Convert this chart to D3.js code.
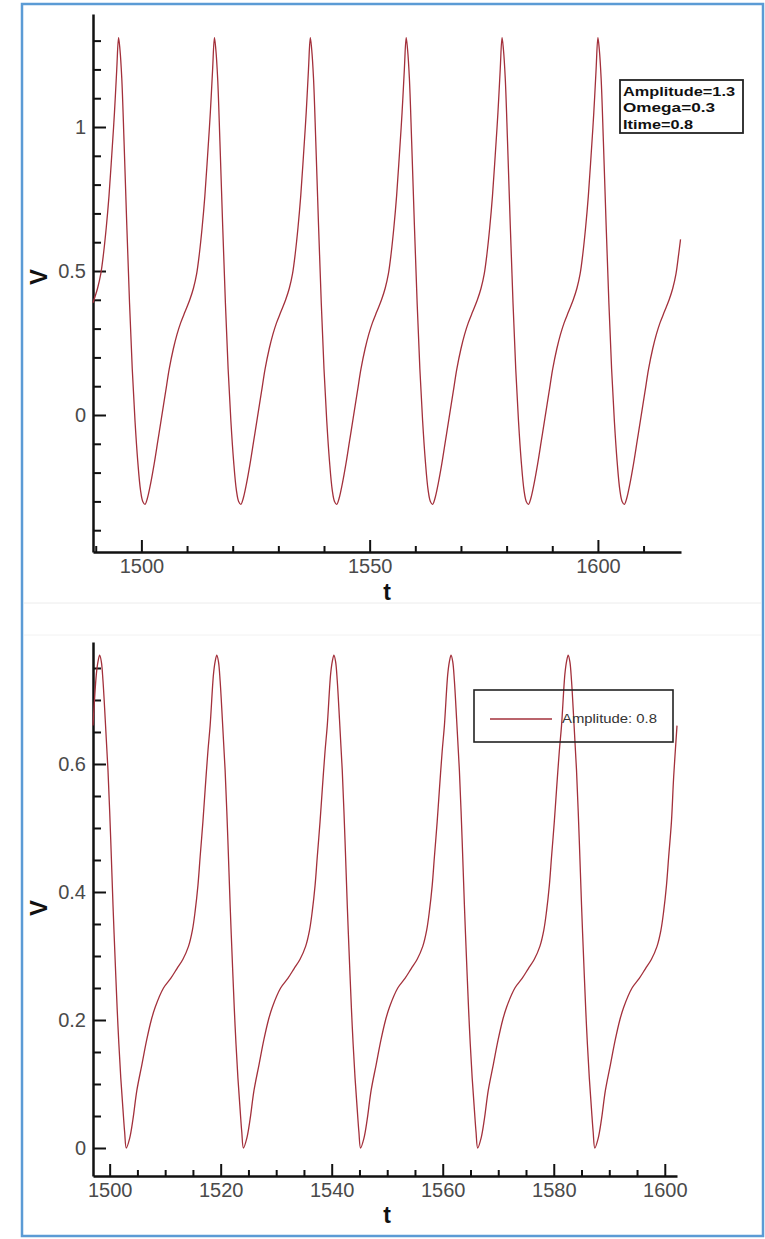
<!DOCTYPE html>
<html>
<head>
<meta charset="utf-8">
<script src="https://cdnjs.cloudflare.com/ajax/libs/d3/7.8.5/d3.min.js"></script>
<style>
  body { margin: 0; background: #fff; }
  svg { display: block; }
  .tick text { font-family: "Liberation Sans", Arial, sans-serif; font-size: 20px; fill: #4a4a4a; }
</style>
</head>
<body>
<svg width="765" height="1239"></svg>
<script>
// ---- upper plot: V(t), Amplitude=1.3
const topT = [
  1489.4,1490.4,1491.1,1491.7,1492.3,1492.9,1493.5,1494.1,1494.6,
  1495.0,1495.3,1495.7,1496.2,1496.8,1497.4,1498.0,1498.6,1499.2,1499.8,1500.3,1500.8,1501.3,1502.0,1502.8,1503.6,1504.4,1505.3,1506.1,1507.0,1507.8,1508.6,1509.6,1510.6,1511.4,1512.1,1512.7,1513.3,1513.9,1514.5,1515.1,1515.6,
  1516.0,1516.3,1516.7,1517.2,1517.8,1518.4,1519.0,1519.6,1520.2,1520.8,1521.3,1521.8,1522.3,1523.0,1523.8,1524.6,1525.4,1526.3,1527.1,1528.0,1528.8,1529.6,1530.6,1531.6,1532.4,1533.1,1533.7,1534.3,1534.9,1535.5,1536.1,1536.6,
  1537.0,1537.3,1537.7,1538.2,1538.8,1539.4,1540.0,1540.6,1541.2,1541.8,1542.3,1542.8,1543.3,1544.0,1544.8,1545.6,1546.4,1547.3,1548.1,1549.0,1549.8,1550.6,1551.6,1552.6,1553.4,1554.1,1554.7,1555.3,1555.9,1556.5,1557.1,1557.6,
  1558.0,1558.3,1558.7,1559.2,1559.8,1560.4,1561.0,1561.6,1562.2,1562.8,1563.3,1563.8,1564.3,1565.0,1565.8,1566.6,1567.4,1568.3,1569.1,1570.0,1570.8,1571.6,1572.6,1573.6,1574.4,1575.1,1575.7,1576.3,1576.9,1577.5,1578.1,1578.6,
  1579.0,1579.3,1579.7,1580.2,1580.8,1581.4,1582.0,1582.6,1583.2,1583.8,1584.3,1584.8,1585.3,1586.0,1586.8,1587.6,1588.4,1589.3,1590.1,1591.0,1591.8,1592.6,1593.6,1594.6,1595.4,1596.1,1596.7,1597.3,1597.9,1598.5,1599.1,1599.6,
  1600.0,1600.3,1600.7,1601.2,1601.8,1602.4,1603.0,1603.6,1604.2,1604.8,1605.3,1605.8,1606.3,1607.0,1607.8,1608.6,1609.4,1610.3,1611.1,1612.0,1612.8,1613.6,1614.6,1615.6,1616.4,1617.1,1617.7,1618.1
];
const topV = [
  0.39,0.44,0.49,0.56,0.65,0.76,0.90,1.05,1.20,
  1.31,1.27,1.17,0.95,0.66,0.39,0.16,-0.02,-0.16,-0.26,-0.30,-0.31,-0.29,-0.24,-0.17,-0.09,-0.01,0.08,0.16,0.23,0.28,0.32,0.36,0.40,0.44,0.49,0.56,0.65,0.76,0.90,1.05,1.20,
  1.31,1.27,1.17,0.95,0.66,0.39,0.16,-0.02,-0.16,-0.26,-0.30,-0.31,-0.29,-0.24,-0.17,-0.09,-0.01,0.08,0.16,0.23,0.28,0.32,0.36,0.40,0.44,0.49,0.56,0.65,0.76,0.90,1.05,1.20,
  1.31,1.27,1.17,0.95,0.66,0.39,0.16,-0.02,-0.16,-0.26,-0.30,-0.31,-0.29,-0.24,-0.17,-0.09,-0.01,0.08,0.16,0.23,0.28,0.32,0.36,0.40,0.44,0.49,0.56,0.65,0.76,0.90,1.05,1.20,
  1.31,1.27,1.17,0.95,0.66,0.39,0.16,-0.02,-0.16,-0.26,-0.30,-0.31,-0.29,-0.24,-0.17,-0.09,-0.01,0.08,0.16,0.23,0.28,0.32,0.36,0.40,0.44,0.49,0.56,0.65,0.76,0.90,1.05,1.20,
  1.31,1.27,1.17,0.95,0.66,0.39,0.16,-0.02,-0.16,-0.26,-0.30,-0.31,-0.29,-0.24,-0.17,-0.09,-0.01,0.08,0.16,0.23,0.28,0.32,0.36,0.40,0.44,0.49,0.56,0.65,0.76,0.90,1.05,1.20,
  1.31,1.27,1.17,0.95,0.66,0.39,0.16,-0.02,-0.16,-0.26,-0.30,-0.31,-0.29,-0.24,-0.17,-0.09,-0.01,0.08,0.16,0.23,0.28,0.32,0.36,0.40,0.44,0.49,0.56,0.61
];
const topMajorX = [1500, 1550, 1600];
const topMinorX = [1490, 1510, 1520, 1530, 1540, 1560, 1570, 1580, 1590, 1610];
const topMajorY = [0, 0.5, 1];
const topMinorY = [-0.4, -0.3, -0.2, -0.1, 0.1, 0.2, 0.3, 0.4, 0.6, 0.7, 0.8, 0.9, 1.1, 1.2, 1.3];
const topNotes = ["Amplitude=1.3", "Omega=0.3", "Itime=0.8"];

// ---- lower plot: V(t), Amplitude 0.8
const botT = [
  1497.0,1497.6,1497.9,1498.2,1498.5,1498.8,1499.2,1499.7,1500.2,1500.6,1501.1,1501.5,1502.0,1502.4,1502.7,
  1503.0,1503.6,1504.2,1504.9,1505.8,1506.7,1507.5,1508.2,1509.7,1511.0,1512.1,1513.2,1514.2,1514.9,1515.4,1515.9,1516.3,1516.8,1517.2,1517.7,1518.1,1518.7,1519.0,1519.3,1519.6,1519.9,1520.3,1520.8,1521.3,1521.7,1522.2,1522.6,1523.1,1523.5,1523.8,
  1524.1,1524.7,1525.3,1526.0,1526.9,1527.8,1528.6,1529.3,1530.8,1532.1,1533.2,1534.3,1535.3,1536.0,1536.5,1537.0,1537.4,1537.9,1538.3,1538.8,1539.2,1539.8,1540.1,1540.4,1540.7,1541.0,1541.4,1541.9,1542.4,1542.8,1543.3,1543.7,1544.2,1544.6,1544.9,
  1545.2,1545.8,1546.4,1547.1,1548.0,1548.9,1549.7,1550.4,1551.9,1553.2,1554.3,1555.4,1556.4,1557.1,1557.6,1558.1,1558.5,1559.0,1559.4,1559.9,1560.3,1560.9,1561.2,1561.5,1561.8,1562.1,1562.5,1563.0,1563.5,1563.9,1564.4,1564.8,1565.3,1565.7,1566.0,
  1566.3,1566.9,1567.5,1568.2,1569.1,1570.0,1570.8,1571.5,1573.0,1574.3,1575.4,1576.5,1577.5,1578.2,1578.7,1579.2,1579.6,1580.1,1580.5,1581.0,1581.4,1582.0,1582.3,1582.6,1582.9,1583.2,1583.6,1584.1,1584.6,1585.0,1585.5,1585.9,1586.4,1586.8,1587.1,
  1587.4,1588.0,1588.6,1589.3,1590.2,1591.1,1591.9,1592.6,1594.1,1595.4,1596.5,1597.6,1598.6,1599.3,1599.8,1600.3,1600.7,1601.2,1601.6,1602.2
];
const botV = [
  0.66,0.74,0.76,0.77,0.76,0.73,0.67,0.59,0.48,0.38,0.27,0.19,0.11,0.06,0.025,
  0.00,0.015,0.045,0.09,0.13,0.17,0.20,0.22,0.25,0.265,0.28,0.295,0.315,0.34,0.37,0.41,0.455,0.51,0.56,0.62,0.66,0.74,0.76,0.77,0.76,0.73,0.67,0.59,0.48,0.38,0.27,0.19,0.11,0.06,0.025,
  0.00,0.015,0.045,0.09,0.13,0.17,0.20,0.22,0.25,0.265,0.28,0.295,0.315,0.34,0.37,0.41,0.455,0.51,0.56,0.62,0.66,0.74,0.76,0.77,0.76,0.73,0.67,0.59,0.48,0.38,0.27,0.19,0.11,0.06,0.025,
  0.00,0.015,0.045,0.09,0.13,0.17,0.20,0.22,0.25,0.265,0.28,0.295,0.315,0.34,0.37,0.41,0.455,0.51,0.56,0.62,0.66,0.74,0.76,0.77,0.76,0.73,0.67,0.59,0.48,0.38,0.27,0.19,0.11,0.06,0.025,
  0.00,0.015,0.045,0.09,0.13,0.17,0.20,0.22,0.25,0.265,0.28,0.295,0.315,0.34,0.37,0.41,0.455,0.51,0.56,0.62,0.66,0.74,0.76,0.77,0.76,0.73,0.67,0.59,0.48,0.38,0.27,0.19,0.11,0.06,0.025,
  0.00,0.015,0.045,0.09,0.13,0.17,0.20,0.22,0.25,0.265,0.28,0.295,0.315,0.34,0.37,0.41,0.455,0.51,0.58,0.66
];
const botMajorX = [1500, 1520, 1540, 1560, 1580, 1600];
const botMinorX = [1505, 1510, 1515, 1525, 1530, 1535, 1545, 1550, 1555, 1565, 1570, 1575, 1585, 1590, 1595];
const botMajorY = [0, 0.2, 0.4, 0.6];
const botMinorY = [0.05, 0.1, 0.15, 0.25, 0.3, 0.35, 0.45, 0.5, 0.55, 0.65, 0.7, 0.75];
const botLegend = "Amplitude: 0.8";

const lineColor = "#a3303b";
const svg = d3.select("svg");

// blue frame of the screenshot and the faint seam between the two captures
svg.append("rect")
  .attr("x", 22).attr("y", 4).attr("width", 741).attr("height", 1232)
  .attr("fill", "none").attr("stroke", "#5b9bd5").attr("stroke-width", 2.5);
svg.append("line").attr("x1", 24).attr("x2", 761).attr("y1", 603).attr("y2", 603)
  .attr("stroke", "#ececec");
svg.append("line").attr("x1", 24).attr("x2", 761).attr("y1", 635).attr("y2", 635)
  .attr("stroke", "#f2f2f2");

function drawPanel(p) {
  const x = d3.scaleLinear().domain(p.xDomain).range([p.left, p.right]);
  const y = d3.scaleLinear().domain(p.yDomain).range([p.bottom, p.top]);
  const g = svg.append("g");

  // minor ticks first, major axes (with labels) on top
  g.append("g").attr("transform", `translate(0,${p.bottom})`)
    .call(d3.axisBottom(x).tickValues(p.minorX).tickSize(-6).tickSizeOuter(0).tickFormat(""))
    .call(a => a.select(".domain").remove());
  g.append("g").attr("transform", `translate(${p.left},0)`)
    .call(d3.axisLeft(y).tickValues(p.minorY).tickSize(-8).tickSizeOuter(0).tickFormat(""))
    .call(a => a.select(".domain").remove());

  g.append("g").attr("transform", `translate(0,${p.bottom})`)
    .call(d3.axisBottom(x).tickValues(p.majorX).tickSize(-12).tickSizeOuter(0).tickPadding(7).tickFormat(d => d));
  g.append("g").attr("transform", `translate(${p.left},0)`)
    .call(d3.axisLeft(y).tickValues(p.majorY).tickSize(-13).tickSizeOuter(0).tickPadding(7).tickFormat(d => d));

  g.selectAll(".tick line").attr("stroke", "#111").attr("stroke-width", 2);
  g.selectAll(".domain").attr("stroke", "#111").attr("stroke-width", 2.5);

  const line = d3.line()
    .x(i => x(p.t[i]))
    .y(i => y(p.v[i]))
    .curve(d3.curveCatmullRom.alpha(0.5));
  g.append("path")
    .datum(d3.range(p.t.length))
    .attr("fill", "none")
    .attr("stroke", lineColor)
    .attr("stroke-width", 1.3)
    .attr("d", line);

  // axis titles
  g.append("text")
    .attr("transform", `translate(38,${p.vLabelY}) rotate(-90)`)
    .attr("text-anchor", "middle").attr("dominant-baseline", "central")
    .style("font-family", "Liberation Sans, Arial, sans-serif")
    .style("font-weight", "bold").style("font-size", "24px").attr("fill", "#111")
    .text("V");
  g.append("text")
    .attr("x", 387).attr("y", p.tLabelY)
    .attr("text-anchor", "middle")
    .style("font-family", "Liberation Sans, Arial, sans-serif")
    .style("font-weight", "bold").style("font-size", "23px").attr("fill", "#111")
    .text("t");
  return g;
}

drawPanel({
  t: topT, v: topV,
  xDomain: [1489.4, 1618.2], yDomain: [-0.4757, 1.3924],
  left: 93, right: 681, top: 14, bottom: 552,
  majorX: topMajorX, minorX: topMinorX, majorY: topMajorY, minorY: topMinorY,
  vLabelY: 277, tLabelY: 600
});

drawPanel({
  t: botT, v: botV,
  xDomain: [1497, 1602.2], yDomain: [-0.04375, 0.7906],
  left: 93, right: 677, top: 642, bottom: 1176,
  majorX: botMajorX, minorX: botMinorX, majorY: botMajorY, minorY: botMinorY,
  vLabelY: 908, tLabelY: 1223
});

// text box of the upper plot
const note = svg.append("g");
note.append("rect")
  .attr("x", 620).attr("y", 80).attr("width", 123).attr("height", 53)
  .attr("fill", "#fff").attr("stroke", "#222").attr("stroke-width", 1.8);
const noteWidths = [112, 92, 70];
note.selectAll("text")
  .data(topNotes)
  .enter()
  .append("text")
  .attr("x", 623)
  .attr("y", (d, i) => 96 + i * 16.3)
  .attr("textLength", (d, i) => noteWidths[i])
  .attr("lengthAdjust", "spacingAndGlyphs")
  .style("font-family", "Liberation Sans, Arial, sans-serif")
  .style("font-weight", "bold").style("font-size", "13px").attr("fill", "#111")
  .text(d => d);

// legend of the lower plot (no fill, curve shows through)
const leg = svg.append("g");
leg.append("rect")
  .attr("x", 474).attr("y", 690).attr("width", 199).attr("height", 52)
  .attr("fill", "none").attr("stroke", "#222").attr("stroke-width", 1.6);
leg.append("line")
  .attr("x1", 490).attr("x2", 552).attr("y1", 719).attr("y2", 719)
  .attr("stroke", lineColor).attr("stroke-width", 1.5);
leg.append("text")
  .attr("x", 562).attr("y", 723)
  .attr("textLength", 95).attr("lengthAdjust", "spacingAndGlyphs")
  .style("font-family", "Liberation Sans, Arial, sans-serif")
  .style("font-size", "13px").attr("fill", "#333")
  .text(botLegend);
</script>
</body>
</html>
